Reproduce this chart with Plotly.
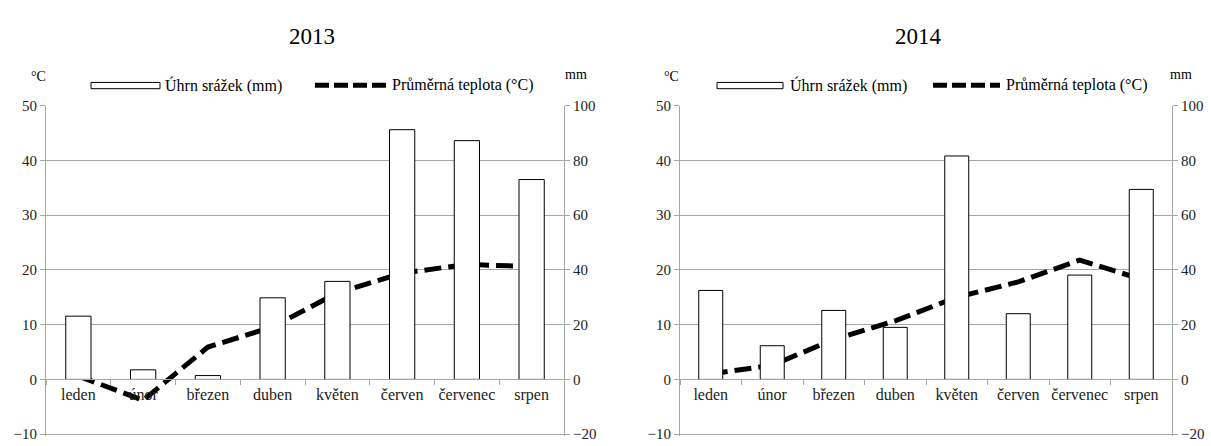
import plotly.graph_objects as go
from plotly.subplots import make_subplots

# Data
mesice = ["leden", "únor", "březen", "duben", "květen", "červen", "červenec", "srpen"]

srazky_2013 = [23.1, 3.5, 1.4, 29.8, 35.8, 91.2, 87.2, 73.0]
teplota_2013 = [0.6, -3.8, 5.9, 9.6, 15.8, 19.4, 21.0, 20.6]

srazky_2014 = [32.5, 12.3, 25.2, 19.0, 81.6, 24.0, 38.1, 69.4]
teplota_2014 = [1.0, 2.6, 7.3, 10.7, 15.0, 17.8, 21.8, 18.3]

roky = ["2013", "2014"]
nazev_srazky = "Úhrn srážek (mm)"
nazev_teplota = "Průměrná teplota (°C)"

W, H = 1211, 446
FONT = "Liberation Serif, Times New Roman, serif"
GRID = "#a6a6a6"

fig = make_subplots(rows=1, cols=2, specs=[[{"secondary_y": True}, {"secondary_y": True}]])

for i, (srazky, teplota) in enumerate([(srazky_2013, teplota_2013), (srazky_2014, teplota_2014)]):
    col = i + 1
    fig.add_trace(go.Bar(
        x=mesice, y=srazky, name=nazev_srazky, showlegend=False,
        marker=dict(color="white", line=dict(color="black", width=1)),
    ), row=1, col=col, secondary_y=True)
    fig.add_trace(go.Scatter(
        x=mesice, y=teplota, name=nazev_teplota, mode="lines", showlegend=False,
        line=dict(color="black", width=5, dash="17px,7px"),
    ), row=1, col=col, secondary_y=False)

# -10 °C leží na 441 px, 50 °C na 101 px; rozsah mírně přes -10, aby byla vidět mřížka
ppu = (441 - 101) / 60
dolni = 0.3
y_dom = [1 - (441 + dolni * ppu) / H, 1 - 101 / H]
zero_pos = 1 - (101 + 50 * ppu) / H
x_doms = [[46 / W, 564 / W], [680 / W, 1172 / W]]

ax_font = dict(family=FONT, size=15, color="#222")

for i in range(2):
    xa = "xaxis" if i == 0 else "xaxis2"
    ya = "yaxis" if i == 0 else "yaxis3"
    ya2 = "yaxis2" if i == 0 else "yaxis4"
    fig.update_layout(**{
        xa: dict(domain=x_doms[i], anchor="free", position=zero_pos,
                 showline=True, linecolor=GRID, linewidth=1, tickangle=0,
                 ticks="outside", ticklen=5, tickcolor=GRID, tickson="boundaries",
                 showgrid=False, tickfont=dict(family=FONT, size=16, color="#222")),
        ya: dict(domain=y_dom, range=[-10 - dolni, 50], tick0=0, dtick=10, showgrid=True,
                 gridcolor=GRID, gridwidth=1, showline=True, linecolor=GRID, ticks="outside",
                 ticklen=5, tickcolor=GRID, zeroline=False, tickfont=ax_font,
                 ticklabeloverflow="allow"),
        ya2: dict(range=[-20 - 2 * dolni, 100], tick0=0, dtick=20, showgrid=False, showline=True,
                  linecolor=GRID, ticks="outside", ticklen=5, tickcolor=GRID, zeroline=False,
                  tickfont=ax_font, ticklabeloverflow="allow"),
    })


def popisek(text, x, y, size, anchor="center"):
    return dict(text=text, x=x / W, y=1 - y / H, xref="paper", yref="paper",
                xanchor=anchor, yanchor="middle", showarrow=False,
                font=dict(family=FONT, size=size, color="black"))


# vlastní legenda (obdélník pro srážky, čárkovaná čára pro teplotu)
legenda = [
    # box_x0, box_x1, text_x, line_x0, line_x1, text2_x
    (91, 160, 163, 315, 387, 390),
    (717, 783, 788, 933, 1000, 1004),
]
shapes = []
annotations = [
    popisek(roky[0], 312, 29, 23),
    popisek(roky[1], 918, 29, 23),
    popisek("°C", 38, 71, 14),
    popisek("mm", 576, 69, 14),
    popisek("°C", 672, 71, 14),
    popisek("mm", 1181, 69, 14),
]
for bx0, bx1, tx, lx0, lx1, tx2 in legenda:
    shapes.append(dict(type="rect", xref="paper", yref="paper",
                       x0=bx0 / W, x1=bx1 / W, y0=1 - 83.5 / H, y1=1 - 77 / H,
                       line=dict(color="black", width=1), fillcolor="white"))
    shapes.append(dict(type="line", xref="paper", yref="paper",
                       x0=lx0 / W, x1=lx1 / W, y0=1 - 80 / H, y1=1 - 80 / H,
                       line=dict(color="black", width=5, dash="14px,5px")))
    annotations.append(popisek(nazev_srazky, tx, 80, 16, "left"))
    annotations.append(popisek(nazev_teplota, tx2, 80, 16, "left"))

fig.update_layout(
    width=W, height=H,
    margin=dict(l=0, r=0, t=0, b=0),
    paper_bgcolor="white", plot_bgcolor="white",
    bargap=0.61,
    showlegend=False,
    font=dict(family=FONT, size=14, color="black"),
    shapes=shapes,
    annotations=annotations,
)

# bez okraje stránky, aby graf seděl přesně v okně
fig.write_html("out.html", config={"displayModeBar": False},
               post_script="document.body.style.margin='0';")
